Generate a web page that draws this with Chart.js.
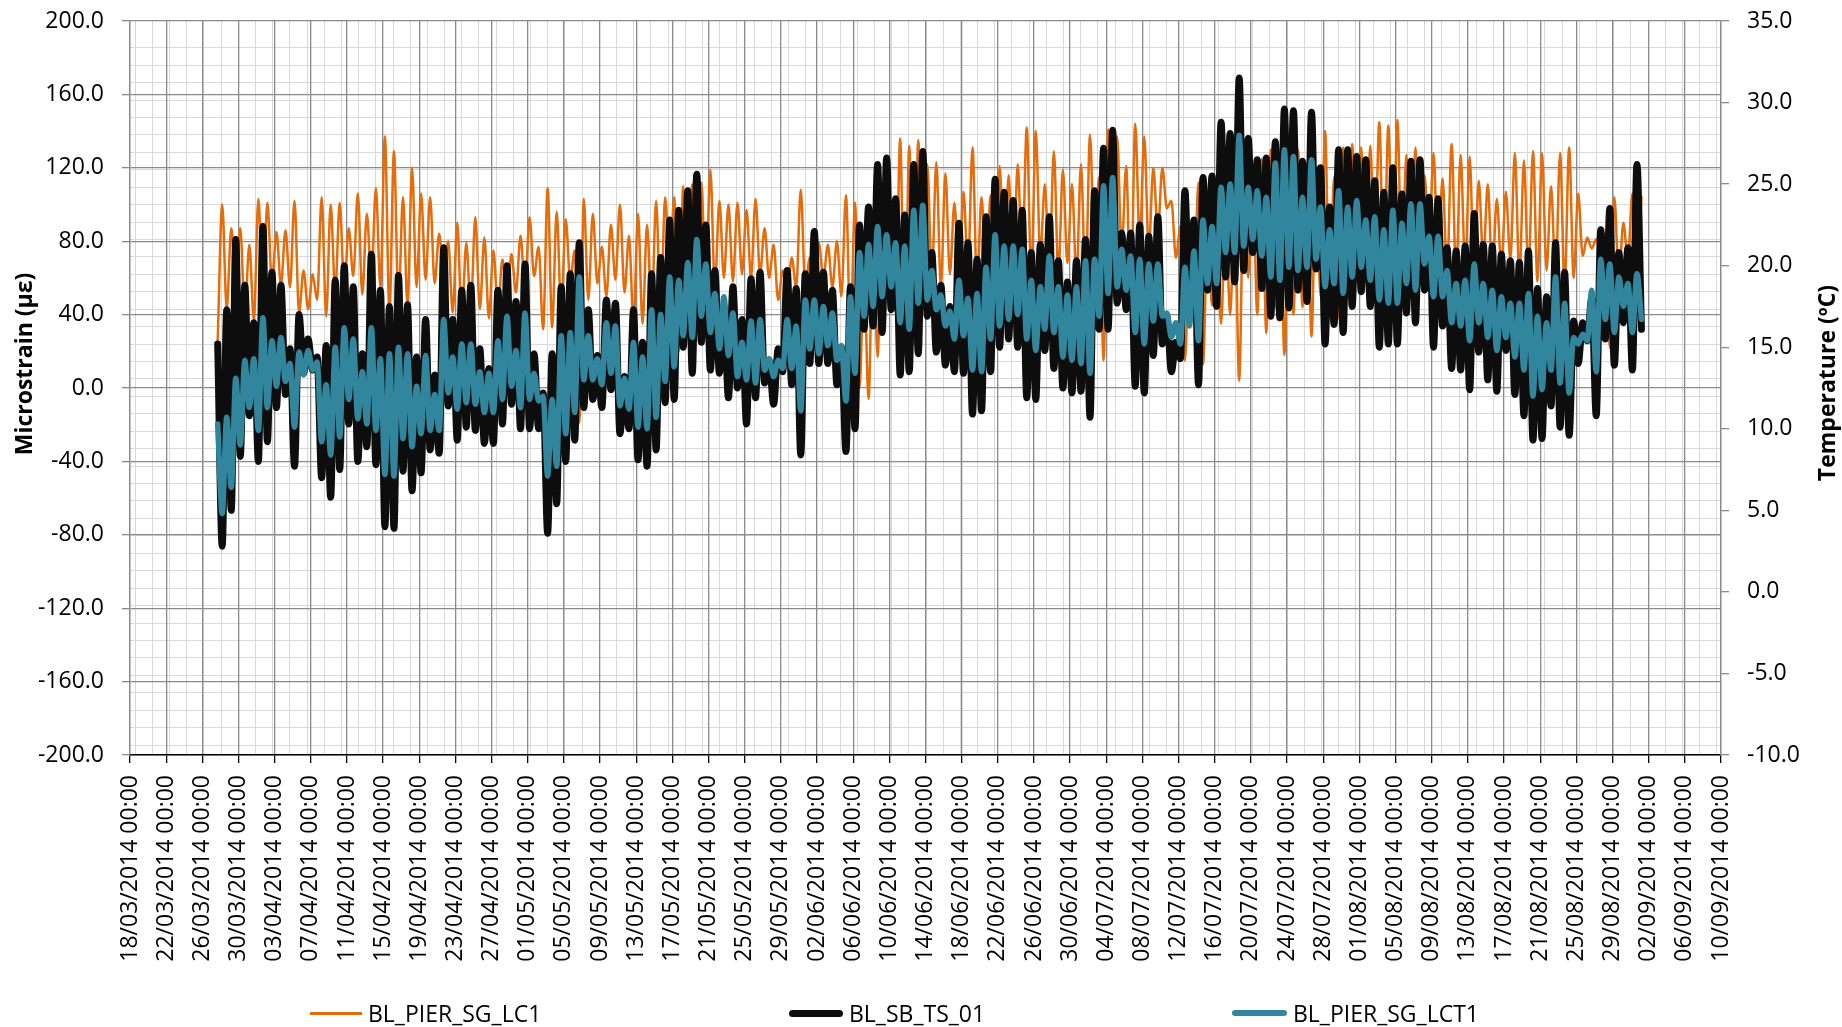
<!DOCTYPE html>
<html>
<head>
<meta charset="utf-8">
<title>BL pier strain gauges vs temperature</title>
<script src="https://cdn.jsdelivr.net/npm/chart.js@4.4.1/dist/chart.umd.min.js"></script>
<style>
    html, body { margin: 0; padding: 0; background: #fff; }
    .wrap { position: relative; width: 1842px; height: 1027px; }
    .legend { position: absolute; top: 998px; height: 30px; display: flex; align-items: center;
              font: 23px 'Open Sans', sans-serif; color: #000; white-space: nowrap; }
    .legend i { display: inline-block; margin-right: 6px; }
</style>
</head>
<body>
<div class="wrap">
    <canvas id="chart" width="1842" height="1027"></canvas>
    <div class="legend" style="left:310px"><i style="width:52px;height:3px;background:#E46C0A"></i>BL_PIER_SG_LC1</div>
    <div class="legend" style="left:789px"><i style="width:54px;height:7px;border-radius:4px;background:#0D0D0D"></i>BL_SB_TS_01</div>
    <div class="legend" style="left:1232px"><i style="width:55px;height:6px;border-radius:3px;background:#31859C"></i>BL_PIER_SG_LCT1</div>
</div>
<script>
/*
 * Readings every 12 h, the first one on 27/03/2014 ~17:00.
 * x is "days since 18/03/2014 00:00" so the axis can be a plain linear scale
 * (no date adapter available offline); tick text comes from TICK_LABELS.
 */
const FIRST_DAY = 9.7;
const STEP_DAYS = 0.5;

const TICK_LABELS = [
    '18/03/2014 00:00', '22/03/2014 00:00', '26/03/2014 00:00', '30/03/2014 00:00',
    '03/04/2014 00:00', '07/04/2014 00:00', '11/04/2014 00:00', '15/04/2014 00:00',
    '19/04/2014 00:00', '23/04/2014 00:00', '27/04/2014 00:00', '01/05/2014 00:00',
    '05/05/2014 00:00', '09/05/2014 00:00', '13/05/2014 00:00', '17/05/2014 00:00',
    '21/05/2014 00:00', '25/05/2014 00:00', '29/05/2014 00:00', '02/06/2014 00:00',
    '06/06/2014 00:00', '10/06/2014 00:00', '14/06/2014 00:00', '18/06/2014 00:00',
    '22/06/2014 00:00', '26/06/2014 00:00', '30/06/2014 00:00', '04/07/2014 00:00',
    '08/07/2014 00:00', '12/07/2014 00:00', '16/07/2014 00:00', '20/07/2014 00:00',
    '24/07/2014 00:00', '28/07/2014 00:00', '01/08/2014 00:00', '05/08/2014 00:00',
    '09/08/2014 00:00', '13/08/2014 00:00', '17/08/2014 00:00', '21/08/2014 00:00',
    '25/08/2014 00:00', '29/08/2014 00:00', '02/09/2014 00:00', '06/09/2014 00:00',
    '10/09/2014 00:00',
];

// BL_PIER_SG_LC1 — microstrain (left axis)
const LC1 = [
    26,
    100,43, 87,59, 87,41, 78,37, 103,50, 101,57, 85,56, 86,55, 102,41, 64,43,
    62,48, 104,39, 100,52, 101,55, 87,61, 106,51, 95,59, 109,55, 137,41, 129,46,
    104,45, 120,55, 106,59, 104,57, 84,61, 80,41, 90,37, 79,43, 93,43, 82,38,
    75,43, 70,48, 73,52, 83,54, 93,61, 77,32, 109,33, 96,43, 92,59, 75,-19,
    103,48, 95,57, 77,50, 89,59, 100,52, 83,35, 95,35, 89,41, 102,41, 104,63,
    104,20, 110,40, 111,55, 112,58, 119,55, 102,60, 100,58, 101,62, 97,60, 103,62,
    87,60, 78,48, 64,50, 71,55, 108,55, 71,58, 79,60, 78,55, 80,50, 105,30,
    101,0, 62,-6, 85,17, 104,50, 95,41, 136,18, 132,24, 135,45, 122,60, 123,55,
    117,62, 101,58, 107,65, 131,55, 104,60, 105,55, 121,62, 116,58, 122,68, 142,60,
    140,72, 111,65, 129,62, 119,68, 111,60, 122,55, 138,70, 115,15, 141,50, 137,75,
    121,42, 144,80, 137,75, 120,85, 120,98, 102,71, 88,15, 75,55, 112,13, 85,45,
    80,35, 95,40, 100,4, 110,60, 118,40, 125,30, 130,44, 120,18, 112,40, 130,44,
    122,28, 118,50, 140,45, 115,38, 131,55, 133,58, 131,65, 132,70, 145,60, 143,62,
    146,65, 127,70, 131,72, 116,78, 128,70, 114,62, 133,60, 127,65, 126,58, 113,70,
    111,62, 103,66, 107,70, 128,60, 124,62, 129,58, 128,64, 110,60, 128,55, 131,60,
    106,72, 82,76, 81,74, 84,22, 104,60, 90,70, 106,65,
    104,
];

// BL_SB_TS_01 — temperature, °C (right axis)
const TS01 = [
    15.2,
    2.8,17.3, 5.0,21.6, 8.3,18.8, 10.8,16.5, 8.0,22.4, 9.2,19.6, 11.3,18.8, 12.1,14.9, 7.7,17.0, 13.4,15.5,
    13.6,14.4, 7.0,15.1, 5.8,19.1, 7.5,20.0, 10.3,18.7, 8.0,14.6, 8.9,20.7, 7.8,18.5, 4.0,17.5, 3.9,19.4,
    7.4,17.6, 6.2,14.4, 7.3,16.7, 8.7,13.3, 8.5,21.1, 11.4,16.7, 9.3,18.5, 10.1,18.8, 9.9,14.9, 9.1,13.7,
    9.1,18.5, 10.3,20.0, 11.5,17.8, 10.0,20.1, 10.0,14.6, 10.0,12.2, 3.6,14.6, 5.4,18.7, 8.0,19.5, 9.3,21.4,
    11.3,17.3, 11.8,14.5, 11.3,17.9, 12.4,17.7, 9.7,13.2, 10.0,17.3, 8.1,15.3, 7.7,19.5, 8.7,20.5, 11.6,22.8,
    11.8,23.4, 15.0,24.6, 13.4,25.6, 15.3,22.5, 13.6,19.7, 13.4,17.5, 11.9,18.7, 12.5,16.7, 10.3,19.2, 11.9,19.6,
    12.8,14.2, 11.5,14.9, 13.5,19.7, 12.7,18.6, 8.4,19.5, 14.0,22.1, 14.0,19.6, 14.0,18.5, 12.7,15.0, 8.6,18.7,
    10.0,22.5, 16.1,23.6, 16.3,26.2, 15.9,26.6, 17.3,24.1, 13.3,23.1, 13.5,26.2, 14.6,27.0, 16.9,20.8, 14.7,18.8,
    13.9,17.5, 13.5,22.6, 13.4,21.4, 10.9,20.4, 11.1,23.0, 13.5,25.3, 15.0,24.5, 15.5,24.0, 15.0,23.4, 11.9,20.8,
    11.8,21.3, 14.8,23.0, 13.7,20.3, 12.5,19.0, 12.2,20.3, 12.3,21.6, 10.7,24.6, 16.1,27.2, 16.1,28.3, 17.7,22.0,
    17.3,22.0, 12.6,22.5, 12.2,21.8, 14.5,23.0, 15.2,16.9, 13.5,15.3, 14.3,24.6, 17.1,22.8, 12.7,25.4, 18.5,25.5,
    17.5,28.8, 19.3,28.1, 19.0,31.5, 19.7,27.8, 20.8,26.5, 18.6,26.6, 16.9,27.6, 16.8,29.6, 17.4,29.5, 18.5,26.4,
    17.8,29.4, 19.8,26.0, 15.2,23.6, 16.4,27.1, 15.9,27.1, 17.5,26.7, 18.4,26.5, 17.5,25.2, 15.0,24.5, 15.2,26.0,
    15.2,24.4, 17.1,26.4, 16.5,26.5, 18.5,24.2, 15.0,24.1, 16.3,21.1, 13.7,20.9, 13.6,21.2, 12.4,23.2, 14.7,21.3,
    13.0,21.2, 12.3,20.7, 14.8,20.3, 12.1,20.2, 10.8,20.9, 9.3,18.6, 9.4,18.1, 11.4,21.4, 10.1,19.6, 9.6,16.6,
    14.0,16.5, 15.4,18.0, 10.8,22.2, 15.5,23.5, 13.9,20.8, 16.5,21.1, 13.6,26.2,
    16.1,
];

// BL_PIER_SG_LCT1 — temperature, °C (right axis)
const LCT1 = [
    10.3,
    4.8,10.7, 6.4,13.1, 9.0,14.2, 11.3,14.3, 9.9,16.8, 11.3,15.4, 12.6,15.6, 12.9,14.0, 10.1,14.7, 13.3,14.8,
    13.6,14.1, 9.2,12.7, 8.4,15.0, 9.5,16.2, 11.8,15.5, 10.6,13.5, 10.3,16.2, 9.9,14.3, 7.2,14.6, 7.1,15.0,
    9.4,14.6, 8.9,12.6, 9.7,14.5, 9.9,12.1, 9.9,16.7, 12.2,14.4, 11.2,15.2, 11.6,15.2, 11.5,13.5, 11.0,13.4,
    11.0,15.4, 11.8,16.9, 12.6,14.8, 11.3,17.1, 11.8,13.4, 11.7,12.0, 7.1,11.8, 7.7,15.7, 9.7,15.9, 11.0,19.3,
    13.0,15.7, 13.0,14.3, 12.7,16.5, 13.4,16.3, 11.4,13.1, 11.2,15.3, 10.1,14.4, 10.0,17.3, 10.7,17.0, 12.9,19.3,
    13.8,19.1, 15.7,20.2, 15.6,21.6, 16.9,20.1, 15.9,18.3, 14.9,18.1, 14.5,17.1, 13.2,15.3, 13.0,16.6, 12.8,16.7,
    13.6,14.3, 13.2,14.2, 13.7,16.7, 13.7,16.3, 11.1,17.9, 14.9,17.9, 14.6,17.5, 15.1,17.1, 14.2,15.1, 11.7,18.1,
    13.4,20.8, 16.9,21.3, 17.5,22.4, 18.1,21.9, 18.7,21.4, 16.5,21.2, 16.1,23.4, 17.7,23.7, 17.9,19.7, 17.3,18.2,
    16.3,17.2, 15.5,19.1, 15.7,18.0, 13.6,18.3, 13.5,19.9, 15.5,21.9, 16.3,21.2, 16.7,21.2, 17.0,21.0, 15.5,19.1,
    14.8,18.7, 16.1,20.6, 15.9,18.7, 14.4,18.2, 14.2,18.7, 14.0,20.3, 13.4,20.4, 16.9,24.9, 18.3,25.4, 18.7,21.0,
    18.5,20.6, 15.9,20.4, 15.2,20.1, 16.6,20.1, 16.9,17.1, 15.6,16.5, 15.2,19.9, 16.3,20.9, 15.4,22.8, 18.9,22.4,
    18.9,24.8, 20.8,25.0, 20.8,28.0, 21.2,24.8, 21.6,24.6, 20.6,24.2, 19.3,26.3, 19.1,27.1, 19.9,26.7, 19.7,24.2,
    19.9,26.5, 20.4,23.6, 18.7,22.2, 18.9,24.6, 18.3,23.6, 19.3,24.0, 19.9,22.8, 19.1,23.0, 17.9,22.2, 17.7,23.4,
    17.7,22.6, 18.9,23.8, 18.5,23.8, 20.1,21.8, 18.1,21.8, 18.1,19.7, 16.5,18.9, 16.3,19.1, 15.4,20.1, 16.5,18.9,
    15.6,18.5, 14.8,18.1, 15.6,17.7, 14.4,17.7, 13.6,18.3, 12.0,16.9, 12.4,16.5, 13.6,19.3, 12.8,17.7, 12.2,15.6,
    15.2,15.8, 15.4,18.5, 13.5,20.4, 16.7,20.1, 15.9,19.3, 17.5,18.9, 15.9,19.5,
    16.7,
];

const FONT = "'Open Sans', sans-serif";
const MAJOR_GRID = '#8a8a8a';
const MINOR_GRID = '#d9d9d9';

/** Pair each reading with its time (days since 18/03/2014). */
function toPoints(values) {
    return values.map((v, i) => ({ x: FIRST_DAY + i * STEP_DAYS, y: v }));
}

/** Fix a scale's thickness and drop the label overhang padding Chart.js adds. */
function fixSize(prop, size) {
    return s => {
        s[prop] = size;
        s.paddingTop = s.paddingBottom = s.paddingLeft = s.paddingRight = 0;
    };
}

/**
 * Excel-style extras: the light minor grid (its own spacing, not tied to the
 * major ticks) and both axis titles, which read bottom-to-top on each side.
 */
const chartExtras = {
    id: 'chartExtras',
    beforeDraw(chart) {
        const { ctx, chartArea: a, scales: { x, y } } = chart;
        ctx.save();
        ctx.strokeStyle = MINOR_GRID;
        ctx.lineWidth = 1;
        ctx.beginPath();
        for (let d = 0.51; d < x.max; d += 1.902) {
            const px = Math.round(x.getPixelForValue(d)) + 0.5;
            ctx.moveTo(px, a.top);
            ctx.lineTo(px, a.bottom);
        }
        for (let v = 185.7; v > y.min; v -= 9.5) {
            const py = Math.round(y.getPixelForValue(v)) + 0.5;
            ctx.moveTo(a.left, py);
            ctx.lineTo(a.right, py);
        }
        ctx.stroke();
        ctx.restore();
    },
    afterDraw(chart) {
        const { ctx } = chart;
        const title = (text, cx, cy) => {
            ctx.save();
            ctx.translate(cx, cy);
            ctx.rotate(-Math.PI / 2);
            ctx.font = `bold 23px ${FONT}`;
            ctx.fillStyle = '#000';
            ctx.textAlign = 'center';
            ctx.textBaseline = 'middle';
            ctx.fillText(text, 0, 0);
            ctx.restore();
        };
        title('Microstrain (με)', 25, 364);
        title('Temperature (ºC)', 1828, 383);
    },
};

const tickFont = { family: FONT, size: 23 };

new Chart(document.getElementById('chart'), {
    type: 'line',
    data: {
        datasets: [
            {
                label: 'BL_PIER_SG_LC1',
                data: toPoints(LC1),
                yAxisID: 'y',
                borderColor: '#E46C0A',
                borderWidth: 2.5,
                order: 3,
            },
            {
                label: 'BL_SB_TS_01',
                data: toPoints(TS01),
                yAxisID: 'y2',
                borderColor: '#0D0D0D',
                borderWidth: 7,
                order: 2,
            },
            {
                label: 'BL_PIER_SG_LCT1',
                data: toPoints(LCT1),
                yAxisID: 'y2',
                borderColor: '#31859C',
                borderWidth: 5.5,
                order: 1,
            },
        ],
    },
    options: {
        responsive: false,
        devicePixelRatio: 1,
        animation: false,
        layout: { padding: { top: 21, left: 0, right: 0, bottom: 0 } },
        elements: {
            point: { radius: 0 },
            line: { cubicInterpolationMode: 'monotone', borderJoinStyle: 'round', borderCapStyle: 'round', fill: false },
        },
        plugins: {
            legend: { display: false },
            tooltip: { enabled: false },
        },
        scales: {
            x: {
                type: 'linear',
                position: 'bottom',
                min: 0,
                max: 176,
                afterFit: fixSize('height', 1027 - 755),
                ticks: {
                    stepSize: 4,
                    autoSkip: false,
                    minRotation: 90,
                    maxRotation: 90,
                    padding: 12,
                    color: '#000',
                    font: tickFont,
                    callback: (_v, i) => TICK_LABELS[i],
                },
                grid: { color: MAJOR_GRID, lineWidth: 1.3, tickLength: 8, tickColor: '#000' },
                border: { color: '#000', width: 1.5 },
            },
            y: {
                position: 'left',
                min: -200,
                max: 200,
                afterFit: fixSize('width', 130),
                ticks: { stepSize: 40, padding: 18, color: '#000', font: tickFont, callback: v => v.toFixed(1) },
                grid: { color: MAJOR_GRID, lineWidth: 1.3, tickLength: 8 },
                border: { color: MAJOR_GRID, width: 1.3 },
            },
            y2: {
                position: 'right',
                min: -10,
                max: 35,
                afterFit: fixSize('width', 121),
                ticks: { stepSize: 5, padding: 18, color: '#000', font: tickFont, callback: v => v.toFixed(1) },
                grid: { drawOnChartArea: false, color: MAJOR_GRID, lineWidth: 1.3, tickLength: 8 },
                border: { color: MAJOR_GRID, width: 1.3 },
            },
        },
    },
    plugins: [chartExtras],
});
</script>
</body>
</html>
